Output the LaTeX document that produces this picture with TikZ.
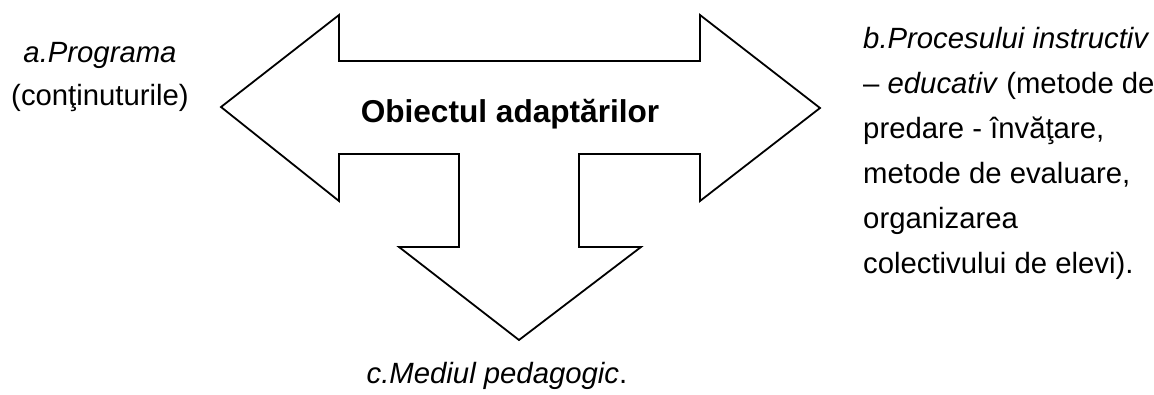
\documentclass[tikz,border=0pt]{standalone}
\usepackage{fontspec}
\setmainfont{Liberation Sans}
\begin{document}
\begin{tikzpicture}[x=1pt,y=-1pt,
  shapeline/.style={draw=black,line width=1.8pt,line join=miter,fill=white},
  txt/.style={inner sep=0pt,font=\fontsize{29.3}{45}\selectfont},
  bigtxt/.style={inner sep=0pt,font=\fontsize{31.6}{38}\selectfont\bfseries}]
\useasboundingbox (0,0) rectangle (1154,394);
\draw[shapeline] (221,107) -- (339,15) -- (339,61) -- (700,61) -- (700,15)
  -- (820,108) -- (700,201) -- (700,154) -- (579,154) -- (579,247)
  -- (641,247) -- (519,340) -- (399,247) -- (459,247) -- (459,154)
  -- (339,154) -- (339,201) -- cycle;
\node[bigtxt,anchor=base] (title) at (510,122) {Obiectul adaptărilor};
\node[txt,anchor=base] (a1) at (100,62) {\itshape a.Programa};
\node[txt,anchor=base] (a2) at (100,105) {(conţinuturile)};
\node[txt,anchor=base west] (b1) at (863,48) {\itshape b.Procesului instructiv};
\node[txt,anchor=base west] (b2) at (863,93) {– \textit{educativ} (metode de};
\node[txt,anchor=base west] (b3) at (863,138) {predare - învăţare,};
\node[txt,anchor=base west] (b4) at (863,183) {metode de evaluare,};
\node[txt,anchor=base west] (b5) at (863,228) {organizarea};
\node[txt,anchor=base west] (b6) at (863,273) {colectivului de elevi).};
\node[txt,anchor=base] (c1) at (497,383) {\textit{c.Mediul pedagogic}.};
\end{tikzpicture}
\end{document}
